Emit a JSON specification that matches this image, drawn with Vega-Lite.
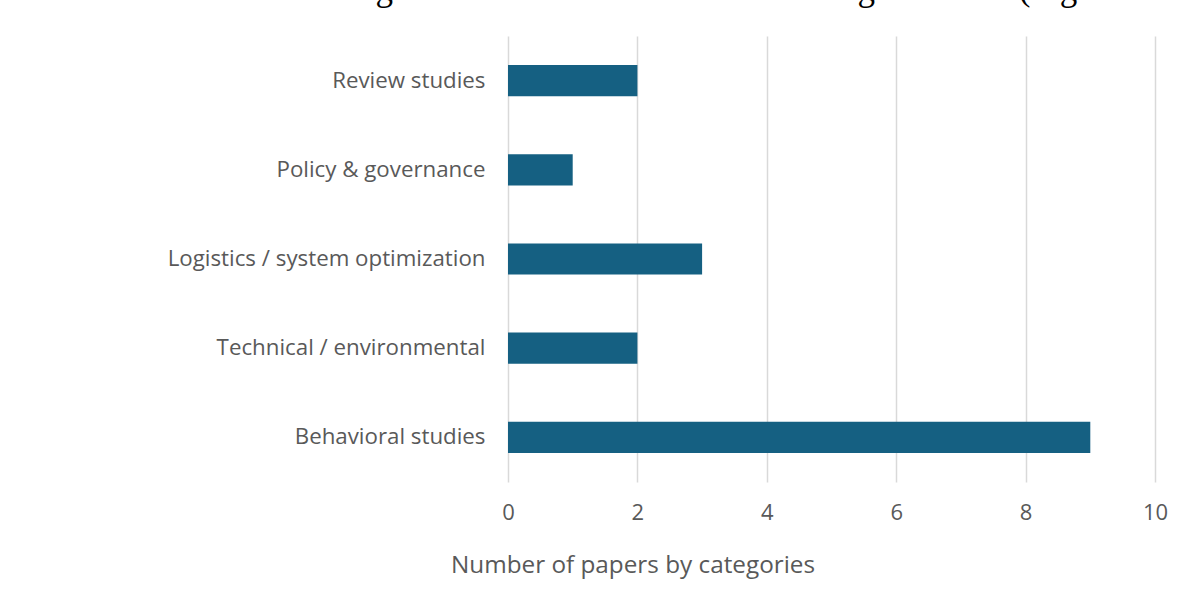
{
  "$schema": "https://vega.github.io/schema/vega-lite/v6.json",
  "autosize": {"type": "none"},
  "width": 647,
  "height": 446,
  "padding": {"left": 508, "top": 36, "right": 29, "bottom": 116},
  "background": "white",
  "title": {
    "text": "studies and reveals a strong imbalance in the focus of existing literature (Figure",
    "font": "Liberation Serif",
    "fontSize": 35,
    "fontWeight": "normal",
    "color": "black",
    "anchor": "start",
    "frame": "group",
    "orient": "top",
    "baseline": "alphabetic",
    "offset": 0,
    "dy": -1,
    "dx": -500
  },
  "data": {
    "values": [
      {"category": "Review studies", "papers": 2},
      {"category": "Policy & governance", "papers": 1},
      {"category": "Logistics / system optimization", "papers": 3},
      {"category": "Technical / environmental", "papers": 2},
      {"category": "Behavioral studies", "papers": 9}
    ]
  },
  "mark": {"type": "bar", "color": "#156082"},
  "encoding": {
    "y": {
      "field": "category",
      "type": "nominal",
      "sort": null,
      "scale": {"paddingInner": 0.65, "paddingOuter": 0.325},
      "axis": {
        "title": null,
        "domain": false,
        "ticks": false,
        "labelFont": "Open Sans",
        "labelFontSize": 22.3,
        "labelColor": "#595959",
        "labelPadding": 23,
        "labelLimit": 500
      }
    },
    "x": {
      "field": "papers",
      "type": "quantitative",
      "scale": {"domain": [0, 10], "nice": false},
      "axis": {
        "values": [0, 2, 4, 6, 8, 10],
        "title": "Number of papers by categories",
        "titleFont": "Open Sans",
        "titleFontSize": 24.3,
        "titleFontWeight": "normal",
        "titleColor": "#595959",
        "titleX": 124.5,
        "titleY": 83,
        "titleAnchor": "middle",
        "titleAlign": "center",
        "titleBaseline": "middle",
        "domain": false,
        "ticks": false,
        "grid": true,
        "gridColor": "#D9D9D9",
        "gridWidth": 1.5,
        "labelFont": "Open Sans",
        "labelFontSize": 22,
        "labelColor": "#595959",
        "labelPadding": 30,
        "labelBaseline": "middle",
        "labelFlush": false
      }
    }
  },
  "config": {
    "view": {"stroke": null}
  }
}
